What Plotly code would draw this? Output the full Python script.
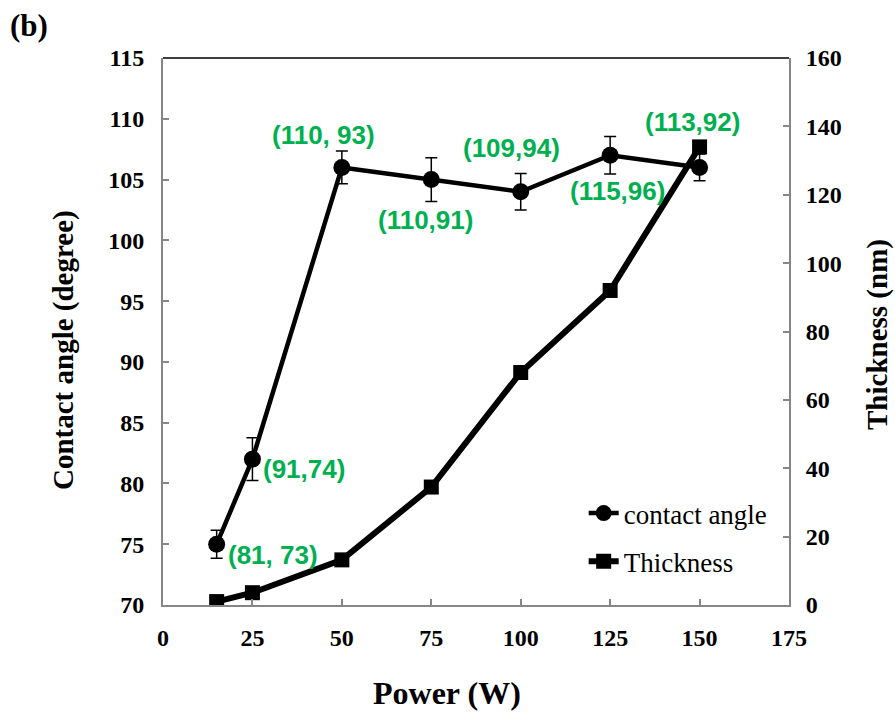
import plotly.graph_objects as go

# ---- data ----
power = [15, 25, 50, 75, 100, 125, 150]
contact_angle = [75, 82, 106, 105, 104, 107, 106]
contact_err = [1.15, 1.75, 1.35, 1.8, 1.5, 1.55, 1.1]
thickness = [1, 3.6, 13.2, 34.5, 68, 92, 134]

x_ticks = [0, 25, 50, 75, 100, 125, 150, 175]
y_left_ticks = [70, 75, 80, 85, 90, 95, 100, 105, 110, 115]
y_right_ticks = [0, 20, 40, 60, 80, 100, 120, 140, 160]

point_labels = ["(81, 73)", "(91,74)", "(110, 93)", "(110,91)", "(109,94)", "(115,96)", "(113,92)"]
# label anchor positions (layout), in data coordinates of the left axis
label_pos_x = [30.7, 39.3, 44.9, 73.4, 97.4, 127.0, 148.0]
label_pos_y = [74.1, 81.2, 108.7, 101.7, 107.6, 104.05, 109.75]

GREEN = "#00B050"
AXIS_GRAY = "#868686"
SERIF = "Liberation Serif, Times New Roman, serif"
SANS = "Liberation Sans, Arial, sans-serif"

fig = go.Figure()

fig.add_trace(go.Scatter(
    x=power, y=contact_angle, name="contact angle",
    mode="lines+markers",
    line=dict(color="black", width=4.5),
    marker=dict(symbol="circle", size=17, color="black"),
    error_y=dict(type="data", array=contact_err, visible=True,
                 color="black", thickness=1.5, width=6),
    legendgroup="a", yaxis="y",
))

fig.add_trace(go.Scatter(
    x=power, y=thickness, name="Thickness",
    mode="lines+markers",
    line=dict(color="black", width=6),
    marker=dict(symbol="square", size=15, color="black"),
    legendgroup="b", yaxis="y2",
))

axis_common = dict(
    showline=True, linecolor=AXIS_GRAY, linewidth=2,
    ticks="inside", ticklen=6, tickcolor=AXIS_GRAY, tickwidth=2,
    showgrid=False, zeroline=False,
    tickfont=dict(family=SERIF, size=24, color="black", weight="bold"),
)

fig.update_layout(
    width=895, height=715,
    margin=dict(l=163, r=106, t=58, b=110),
    paper_bgcolor="white", plot_bgcolor="white",
    xaxis=dict(range=[0, 175], tickvals=x_ticks, ticklabelstandoff=10, **axis_common),
    yaxis=dict(range=[70, 115], tickvals=y_left_ticks, ticklabelstandoff=12, **axis_common),
    yaxis2=dict(range=[0, 160], tickvals=y_right_ticks, overlaying="y", side="right",
                ticklabelstandoff=10, **axis_common),
    showlegend=True,
    legend=dict(
        x=0.672, y=0.212, xanchor="left", yanchor="top",
        font=dict(family=SERIF, size=27, color="black"),
        bgcolor="rgba(0,0,0,0)", traceorder="grouped", tracegroupgap=10,
    ),
    shapes=[dict(type="line", xref="paper", yref="paper", x0=0, x1=1, y0=1, y1=1,
                 line=dict(color="black", width=1.5))],
)

annotations = []
for t, ax, ay in zip(point_labels, label_pos_x, label_pos_y):
    annotations.append(dict(
        x=ax, y=ay, xref="x", yref="y", text=t, showarrow=False,
        font=dict(family=SANS, size=26, color=GREEN, weight="bold"),
        xanchor="center", yanchor="middle",
    ))

# axis titles and panel label
annotations += [
    dict(text="Power (W)", xref="paper", yref="paper",
         x=(447 - 163) / 626, y=-(693 - 605) / 547, xanchor="center", yanchor="middle",
         showarrow=False, font=dict(family=SERIF, size=32, color="black", weight="bold")),
    dict(text="Contact angle (degree)", xref="paper", yref="paper",
         x=-(163 - 63) / 626, y=(605 - 350) / 547, xanchor="center", yanchor="middle",
         textangle=-90, showarrow=False,
         font=dict(family=SERIF, size=29, color="black", weight="bold")),
    dict(text="Thickness (nm)", xref="paper", yref="paper",
         x=1 + (878 - 789) / 626, y=(605 - 335) / 547, xanchor="center", yanchor="middle",
         textangle=-90, showarrow=False,
         font=dict(family=SERIF, size=29, color="black", weight="bold")),
    dict(text="(b)", xref="paper", yref="paper",
         x=-(163 - 8) / 626, y=1 + (58 - 25) / 547, xanchor="left", yanchor="middle",
         showarrow=False, font=dict(family=SERIF, size=31, color="black", weight="bold")),
]
fig.update_layout(annotations=annotations)

fig.write_html("out.html")
